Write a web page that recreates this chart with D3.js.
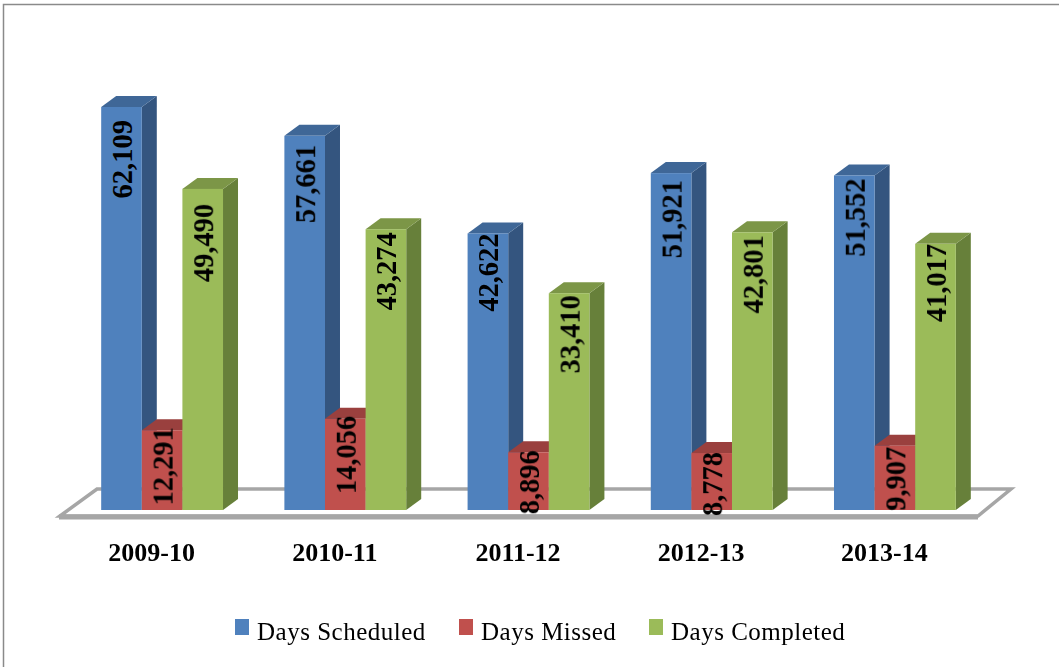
<!DOCTYPE html>
<html><head><meta charset="utf-8">
<script src="https://cdn.jsdelivr.net/npm/d3@7"></script>
<style>html,body{margin:0;padding:0;background:#fff;overflow:hidden}svg{display:block;filter:blur(0.45px)}text{font-family:"Liberation Serif",serif;fill:#000}</style>
</head><body><svg id="c" width="1059" height="667"></svg>
<script>
const categories = ["2009-10","2010-11","2011-12","2012-13","2013-14"];
const seriesNames = ["Days Scheduled","Days Missed","Days Completed"];
const scheduled = [62109,57661,42622,51921,51552];
const missed = [12291,14056,8896,8778,9907];
const completed = [49490,43274,33410,42801,41017];
const seriesValues = [scheduled,missed,completed];
const front = ["#4f81bd","#c0504d","#9bbb59"];
const side = ["#34557f","#7f3432","#67803a"];
const top_ = ["#3f6797","#9a403e","#7c9647"];

const svg = d3.select("#c");
const baseY = 510, depthX = 15, depthY = 11;
const y = d3.scaleLinear().domain([0,62109]).range([baseY,107]);
const xLabel = d3.scaleBand().domain(categories).range([60,976]);
const xGroup = d3.scaleBand().domain(categories).range([70.5,986.5]).paddingInner(0.335).paddingOuter(0.1675);
const xBar = d3.scaleBand().domain(d3.range(3)).range([0,xGroup.bandwidth()]);

// chart frame
svg.append("path").attr("d","M3.5,667V4.5H1059").attr("fill","none").attr("stroke","#8a8a8a").attr("stroke-width",1.5);

// 3D floor
const floor = svg.append("g").attr("fill","none").attr("stroke","#a6a6a6");
floor.append("path").attr("d","M60,516L97,489H1011L978,516Z").attr("fill","#fff").attr("stroke-width",3.5).attr("stroke-linejoin","miter");
floor.append("path").attr("d","M59,517H978").attr("stroke-width",5);

// bars
const groups = svg.selectAll("g.grp").data(categories).join("g").attr("class","grp")
  .attr("transform",d=>`translate(${xGroup(d)},0)`);
groups.each(function(cat,ci){
  const g = d3.select(this);
  seriesValues.forEach((vals,si)=>{
    const x0 = xBar(si), w = xBar.bandwidth(), yt = y(vals[ci]);
    g.append("path").attr("fill",side[si])
      .attr("d",`M${x0+w},${baseY}L${x0+w+depthX},${baseY-depthY}V${yt-depthY}L${x0+w},${yt}Z`);
    g.append("path").attr("fill",top_[si])
      .attr("d",`M${x0},${yt}L${x0+depthX},${yt-depthY}H${x0+w+depthX}L${x0+w},${yt}Z`);
    g.append("rect").attr("x",x0).attr("y",yt).attr("width",w).attr("height",baseY-yt).attr("fill",front[si]);
  });
});

// value labels: text starts a little below each bar's top, as placed in the source
const labelDrop = [[13,9,0,7,3],[-3,-3,-2,-1,1],[15,3,2,3,0]];
groups.each(function(cat,ci){
  const g = d3.select(this);
  seriesValues.forEach((vals,si)=>{
    const cx = xBar(si)+xBar.bandwidth()/2+10.5, yt = y(vals[ci])+labelDrop[si][ci];
    g.append("text").attr("transform",`translate(${cx},${yt}) rotate(-90)`)
      .attr("text-anchor","end").attr("font-size",28.5).attr("font-weight","bold")
      .text(d3.format(",")(vals[ci]));
  });
});

// category labels
svg.selectAll("text.cat").data(categories).join("text").attr("class","cat")
  .attr("x",d=>xLabel(d)+xLabel.bandwidth()/2).attr("y",561)
  .attr("text-anchor","middle").attr("font-size",26).attr("font-weight","bold").text(d=>d);

// legend
const legendX = d3.scaleOrdinal().domain(seriesNames).range([235,459,649]);
const lg = svg.selectAll("g.lg").data(seriesNames).join("g").attr("class","lg")
  .attr("transform",d=>`translate(${legendX(d)},0)`);
lg.append("rect").attr("y",619).attr("width",14).attr("height",16).attr("fill",(d,i)=>front[i]);
lg.append("text").attr("x",22).attr("y",640).attr("font-size",25).attr("letter-spacing",0.5).attr("fill","#111").text(d=>d);
</script></body></html>
